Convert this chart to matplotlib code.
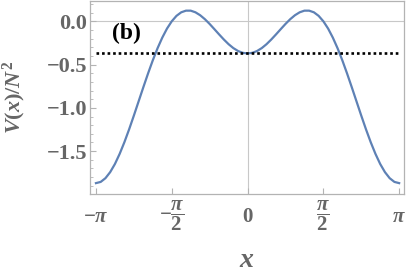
import matplotlib
matplotlib.use('Agg')
import matplotlib.pyplot as plt
import numpy as np
from matplotlib.ticker import MultipleLocator

plt.rcParams['mathtext.fontset'] = 'custom'
plt.rcParams['mathtext.rm'] = 'Liberation Serif:bold'
plt.rcParams['mathtext.it'] = 'Liberation Serif:bold:italic'
plt.rcParams['mathtext.bf'] = 'Liberation Serif:bold'

# values, x in steps of pi/32 from 0 to pi (curve is symmetric)
steps = np.arange(33)
v_half = [-0.370, -0.363, -0.342, -0.308, -0.263, -0.209, -0.150, -0.089, -0.029,
          0.026, 0.072, 0.106, 0.125, 0.125, 0.106, 0.065, 0.002, -0.082, -0.187,
          -0.310, -0.449, -0.601, -0.761, -0.925, -1.089, -1.248, -1.397, -1.532,
          -1.649, -1.743, -1.813, -1.856, -1.870]
level = -0.37

x_half = steps * np.pi / 32
x = np.concatenate([-x_half[::-1], x_half[1:]])
v = np.concatenate([v_half[::-1], v_half[1:]])

xticks = [-np.pi, -np.pi / 2, 0, np.pi / 2, np.pi]
xlabels = [r'$-\pi$', r'$-\dfrac{\pi}{2}$', r'$0$', r'$\dfrac{\pi}{2}$', r'$\pi$']
yticks = [0.0, -0.5, -1.0, -1.5]
ylabels = ['0.0', '\u22120.5', '\u22121.0', '\u22121.5']

gray = '#666666'
frame = '#b3b3b3'

fig = plt.figure(figsize=(4.07, 2.72), dpi=100)
ax = fig.add_axes([0.221, 0.287, 0.772, 0.711])

ax.axhline(0, color='#c8c8c8', lw=0.8, zorder=0)
ax.axvline(0, color='#c8c8c8', lw=0.8, zorder=0)
ax.plot(x, v, color='#5E81B5', lw=1.6)
ax.plot([-np.pi, np.pi], [level, level], color='black', ls=(0, (1, 1.1)), lw=1.9)

ax.set_xlim(-3.266, 3.245)
ax.set_ylim(-1.995, 0.242)

ax.set_xticks(xticks)
ax.set_xticklabels(xlabels, va='center')
ax.set_yticks(yticks)
ax.set_yticklabels(ylabels, fontfamily='Liberation Serif', fontweight='bold')
ax.yaxis.set_minor_locator(MultipleLocator(0.1))
ax.tick_params(which='major', direction='in', length=4, width=0.8, color=frame,
               labelsize=16, labelcolor=gray, pad=2)
ax.tick_params(axis='x', which='major', labelsize=15, pad=16)
ax.tick_params(which='minor', direction='in', length=2, width=0.6, color=frame)
for s in ax.spines.values():
    s.set_color(frame)
    s.set_linewidth(0.9)

ax.set_xlabel(r'$x$', fontsize=20, color=gray)
ax.xaxis.set_label_coords(0.5, -0.262)
ax.set_ylabel(r'$V(x)/N^2$', fontsize=16, color=gray)
ax.yaxis.set_label_coords(-0.198, 0.5)
ax.text(-2.80, -0.14, '(b)', fontsize=17, fontweight='bold', family='Liberation Serif',
        ha='left', va='center', color='black')

fig.savefig('out.png', dpi=100)
